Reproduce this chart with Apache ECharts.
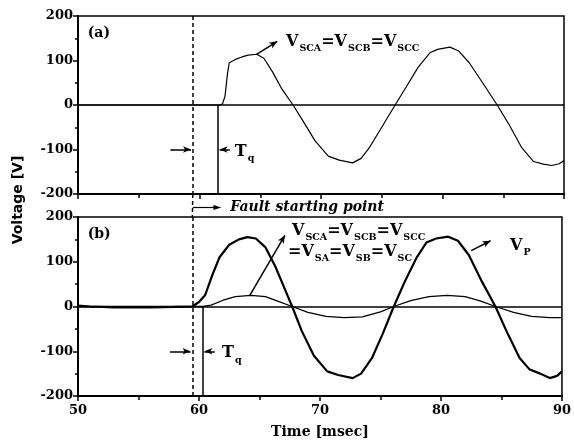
<!DOCTYPE html>
<html><head><meta charset="utf-8">
<script src="https://cdn.jsdelivr.net/npm/echarts@6/dist/echarts.min.js"></script>
<style>html,body{margin:0;padding:0;background:#fff}#c{width:574px;height:441px}</style>
</head><body><div id="c"></div>
<script>
// ---- data (time in msec, voltage in V) ----
const tTop = [50,61.7,61.9,62.1,62.3,62.45,63,63.5,64,64.7,65.3,66,66.8,67.7,68.5,69.5,70.6,71.5,72.6,73.3,74,75,76.1,77,78,79,79.6,80.6,81.3,82.2,83.3,84.5,85.5,86.5,87.5,88.3,89,89.6,90];
const vTop = [0,0,3,20,70,95,103,108,112,114,105,75,35,0,-35,-80,-115,-124,-130,-120,-95,-50,0,40,85,118,125,130,122,95,50,0,-45,-95,-127,-133,-136,-132,-125];
const tP = [50,51,53,56,58,59.45,60,60.5,61.1,61.7,62.5,63.3,64,64.7,65.5,66.3,67,67.7,68.5,69.5,70.6,71.5,72.7,73.4,74.3,75.2,76.1,77,78,78.8,79.6,80.6,81.4,82.3,83.4,84.5,85.5,86.5,87.3,88.2,89,89.6,90];
const vP = [2,0,-2,-2,-1,0,10,25,70,110,138,150,155,152,132,90,45,0,-55,-110,-145,-153,-160,-150,-115,-60,0,55,110,143,152,156,147,115,55,0,-60,-115,-140,-150,-160,-155,-145];
const tS = [50,60.3,61,62,63,64.3,65.5,66.5,67.7,69,70.5,72,73.5,75,76.1,77.5,79,80.5,82,83.3,84.5,86,87.5,89,90];
const vS = [0,0,3,14,22,25,22,12,0,-13,-22,-25,-23,-12,0,13,22,25,22,12,0,-13,-22,-25,-25];
const xTicks = [50,60,70,80,90];
const yTicks = [-200,-100,0,100,200];
const faultT = 59.45;   // fault starting point
const tqTop = 61.5;     // end of Tq, panel (a)
const tqBot = 60.3;     // end of Tq, panel (b)

const zip = (t, v) => t.map((x, i) => [x, v[i]]);
const SERIF = 'DejaVu Serif';
const lbl = {fontFamily: SERIF, fontWeight: 'bold', fontSize: 13, color: '#000'};

function xAx(gi, showLabel) {
  return {
    type: 'value', gridIndex: gi, min: xTicks[0], max: xTicks[xTicks.length-1], interval: 10,
    axisLine: {onZero: false, lineStyle: {color: '#000', width: 2}},
    axisTick: {show: true, length: 5, lineStyle: {color: '#000', width: 1.5}},
    minorTick: {show: true, splitNumber: 2, length: 4, lineStyle: {color: '#000', width: 1.5}},
    splitLine: {show: false},
    axisLabel: Object.assign({show: showLabel, margin: 8}, lbl),
    name: showLabel ? 'Time [msec]' : '', nameLocation: 'middle', nameGap: 29,
    nameTextStyle: {fontFamily: SERIF, fontWeight: 'bold', fontSize: 14, color: '#000'}
  };
}
function yAx(gi) {
  return {
    type: 'value', gridIndex: gi, min: yTicks[0], max: yTicks[yTicks.length-1], interval: 100,
    axisLine: {lineStyle: {color: '#000', width: 2}},
    axisTick: {show: true, length: 5, lineStyle: {color: '#000', width: 1.5}},
    minorTick: {show: true, splitNumber: 2, length: 3, lineStyle: {color: '#000', width: 1.5}},
    splitLine: {show: false},
    axisLabel: Object.assign({margin: 5}, lbl)
  };
}
const zeroLine = {yAxis: 0, lineStyle: {type: 'solid', width: 1.5, color: '#000'}};
function arrow(a, b) { return [{coord: a, symbol: 'none'}, {coord: b, symbol: 'arrow', symbolSize: [5, 8]}]; }

const chart = echarts.init(document.getElementById('c'), null, {renderer: 'canvas'});
const option = {
  animation: false,
  backgroundColor: '#fff',
  grid: [
    {left: 78, top: 16, width: 486, height: 178, show: true, borderColor: '#000', borderWidth: 1.5},
    {left: 78, top: 217, width: 486, height: 179, show: true, borderColor: '#000', borderWidth: 1.5}
  ],
  xAxis: [xAx(0, false), xAx(1, true)],
  yAxis: [yAx(0), yAx(1)],
  series: [
    {
      type: 'line', xAxisIndex: 0, yAxisIndex: 0, data: zip(tTop, vTop), showSymbol: false,
      lineStyle: {color: '#000', width: 1.2}, z: 3,
      markLine: {
        silent: true, symbol: 'none', label: {show: false}, animation: false,
        lineStyle: {color: '#000', width: 1.5, type: 'solid'},
        data: [
          zeroLine,
          [{coord: [faultT, 200], lineStyle: {type: [4, 3], width: 1.5}}, {coord: [faultT, -200]}],
          [{coord: [tqTop, 0]}, {coord: [tqTop, -200]}],
          arrow([57.6, -100], [59.3, -100]),
          arrow([62.5, -100], [61.65, -100]),
          arrow([64.7, 114], [66.4, 143])
        ]
      }
    },
    {
      type: 'line', xAxisIndex: 1, yAxisIndex: 1, data: zip(tP, vP), showSymbol: false,
      lineStyle: {color: '#000', width: 2.2}, z: 3,
      markLine: {
        silent: true, symbol: 'none', label: {show: false}, animation: false,
        lineStyle: {color: '#000', width: 1.5, type: 'solid'},
        data: [
          zeroLine,
          [{coord: [faultT, 200], lineStyle: {type: [4, 3], width: 1.5}}, {coord: [faultT, -200]}],
          [{coord: [tqBot, 0]}, {coord: [tqBot, -200]}],
          arrow([57.6, -100], [59.3, -100]),
          arrow([61.3, -100], [60.45, -100]),
          arrow([64.2, 25], [67.1, 159]),
          arrow([82.5, 125], [84.1, 147])
        ]
      }
    },
    {
      type: 'line', xAxisIndex: 1, yAxisIndex: 1, data: zip(tS, vS), showSymbol: false,
      lineStyle: {color: '#000', width: 1.3}, z: 3
    }
  ]
};
chart.setOption(option);

const V = {fontFamily: SERIF, fontWeight: 'bold', fontSize: 16, fill: '#000', verticalAlign: 'bottom', lineHeight: 20};
const S = {fontFamily: SERIF, fontWeight: 'bold', fontSize: 9.5, fill: '#000', verticalAlign: 'bottom', lineHeight: 20, padding: [0, 0, -4, 1]};
function rtext(x, y, text) {
  return {type: 'text', x: x, y: y, z: 20, style: {text: text, rich: {v: V, s: S}, verticalAlign: 'middle'}};
}
function px(gi, t, v) { return chart.convertToPixel({gridIndex: gi}, [t, v]); }
const pa = px(0, 50.8, 162), pb = px(1, 50.8, 162);
const tq1 = px(0, 62.9, -100), tq2 = px(1, 61.9, -100);
const gapTop = px(0, faultT, -200), gapBot = px(1, faultT, 200);
const fy = (gapTop[1] + gapBot[1]) / 2 + 2;
const fEnd = px(0, 61.8, 0)[0];
chart.setOption({
  graphic: [
    {type: 'line', shape: {x1: gapTop[0], y1: gapTop[1], x2: gapBot[0], y2: gapBot[1]}, style: {stroke: '#000', lineWidth: 1.5, lineDash: [4, 3]}},
    {type: 'line', shape: {x1: gapTop[0], y1: fy, x2: fEnd - 6, y2: fy}, style: {stroke: '#000', lineWidth: 1.2}},
    {type: 'polygon', shape: {points: [[fEnd, fy], [fEnd - 8, fy - 2.5], [fEnd - 8, fy + 2.5]]}, style: {fill: '#000'}},
    {type: 'text', x: pa[0], y: pa[1], style: {text: '(a)', font: 'bold 14px "DejaVu Serif"', fill: '#000', verticalAlign: 'middle'}},
    {type: 'text', x: pb[0], y: pb[1], style: {text: '(b)', font: 'bold 14px "DejaVu Serif"', fill: '#000', verticalAlign: 'middle'}},
    rtext(tq1[0], tq1[1], '{v|T}{s|q}'),
    rtext(tq2[0], tq2[1], '{v|T}{s|q}'),
    {type: 'text', x: fEnd + 9, y: fy, style: {text: 'Fault starting point', font: 'italic bold 14px "DejaVu Serif"', fill: '#000', verticalAlign: 'middle'}},
    rtext(286, 40, '{v|V}{s|SCA}{v|=V}{s|SCB}{v|=V}{s|SCC}'),
    rtext(292, 229, '{v|V}{s|SCA}{v|=V}{s|SCB}{v|=V}{s|SCC}'),
    rtext(288, 250, '{v|=V}{s|SA}{v|=V}{s|SB}{v|=V}{s|SC}'),
    rtext(510, 244, '{v|V}{s|P}'),
    {type: 'text', x: 18, y: 200, rotation: Math.PI / 2,
     style: {text: 'Voltage [V]', font: 'bold 14px "DejaVu Sans"', fill: '#000', align: 'center', verticalAlign: 'middle'}}
  ]
});
</script></body></html>
